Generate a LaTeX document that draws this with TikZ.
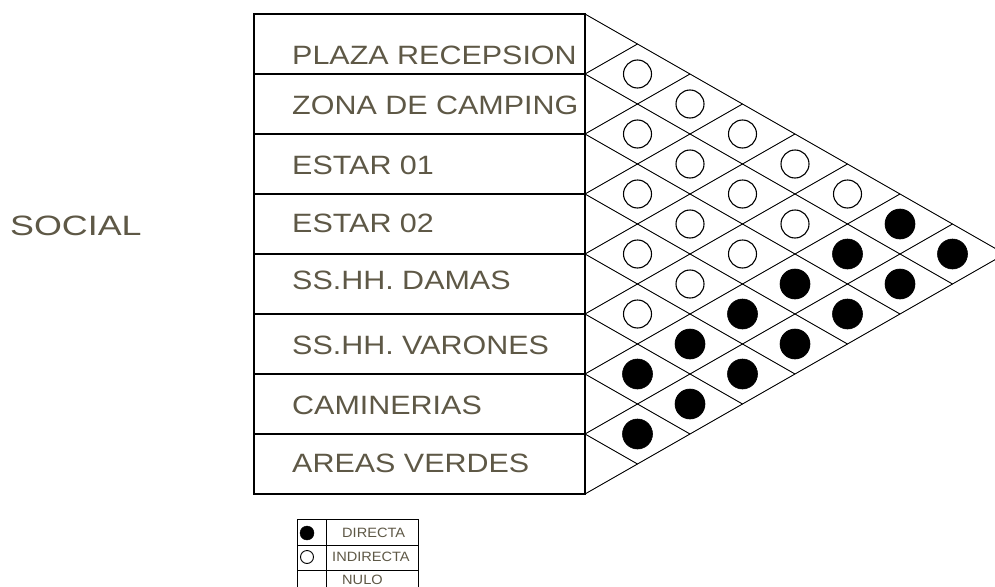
\documentclass[tikz,border=0pt]{standalone}
\usepackage{fontspec}
\setmainfont{Liberation Sans}
\newfontfamily\lblfont[FakeStretch=1.15]{Liberation Sans}
\newfontfamily\socfont[FakeStretch=1.28]{Liberation Sans}
\newfontfamily\legfont[FakeStretch=1.08]{Liberation Sans}
\definecolor{txtcol}{RGB}{94,88,70}
\begin{document}
\begin{tikzpicture}[x=1pt,y=-1pt,
  rowtxt/.style={anchor=base west, inner sep=0pt, text=txtcol, font=\lblfont\fontsize{26.5}{30}\selectfont},
  soctxt/.style={anchor=base west, inner sep=0pt, text=txtcol, font=\socfont\fontsize{28}{32}\selectfont},
  legtxt/.style={anchor=base west, inner sep=0pt, text=txtcol, font=\legfont\fontsize{13.5}{15}\selectfont},
  tbl/.style={draw=black, line width=1.3pt},
  gridline/.style={draw=black, line width=0.9pt},
  opencirc/.style={circle, draw=black, line width=1.1pt, fill=white, minimum size=28pt, inner sep=0pt},
  fullcirc/.style={circle, draw=black, fill=black, line width=0.6pt, minimum size=30pt, inner sep=0pt},
  legopen/.style={circle, draw=black, line width=0.9pt, minimum size=13pt, inner sep=0pt},
  legfull/.style={circle, draw=black, fill=black, minimum size=14pt, inner sep=0pt},
  legline/.style={draw=black, line width=1pt}]
\useasboundingbox (0,0) rectangle (995,586);
\begin{scope}
\clip (0,0) rectangle (995,586);
% label
\node[soctxt] (social) at (10,235) {SOCIAL};
% table
\draw[tbl] (254,14) rectangle (585,494);
\foreach \k in {1,...,7} { \draw[tbl] (254,{14+60*\k}) -- (585,{14+60*\k}); }
\node[rowtxt] (r0) at (292,64) {PLAZA RECEPSION};
\node[rowtxt] (r1) at (292,114) {ZONA DE CAMPING};
\node[rowtxt] (r2) at (292,174) {ESTAR 01};
\node[rowtxt] (r3) at (292,232) {ESTAR 02};
\node[rowtxt] (r4) at (292,289) {SS.HH. DAMAS};
\node[rowtxt] (r5) at (292,354) {SS.HH. VARONES};
\node[rowtxt] (r6) at (292,414) {CAMINERIAS};
\node[rowtxt] (r7) at (292,472) {AREAS VERDES};
% diamond grid
\foreach \k in {0,...,8} {
  \draw[gridline] (585,{14+60*\k}) -- ++({52.5*(8-\k)},{30*(8-\k)});
  \draw[gridline] (585,{14+60*\k}) -- ++({52.5*\k},{-30*\k});
}
% indirect relations
\foreach \i/\j in {0/1,0/2,0/3,0/4,0/5,1/2,1/3,1/4,1/5,2/3,2/4,2/5,3/4,3/5,4/5} {
  \node[opencirc] (c\i\j) at ({585+52.5*(\j-\i)},{44+30*(\i+\j)}) {};
}
% direct relations
\foreach \i/\j in {0/6,0/7,1/6,1/7,2/6,2/7,3/6,3/7,4/6,4/7,5/6,5/7,6/7} {
  \node[fullcirc] (c\i\j) at ({585+52.5*(\j-\i)},{44+30*(\i+\j)}) {};
}
% legend
\draw[legline] (297,598) -- (297,519) -- (418,519) -- (418,598);
\draw[legline] (326,519) -- (326,598);
\draw[legline] (297,545) -- (418,545);
\draw[legline] (297,570) -- (418,570);
\node[legfull] (lfull) at (307,533) {};
\node[legopen] (lopen) at (307,557) {};
\node[legtxt] (ldir) at (342,537.5) {DIRECTA};
\node[legtxt] (lind) at (332,561.5) {INDIRECTA};
\node[legtxt] (lnul) at (342,584.5) {NULO};
\end{scope}
\end{tikzpicture}
\end{document}
